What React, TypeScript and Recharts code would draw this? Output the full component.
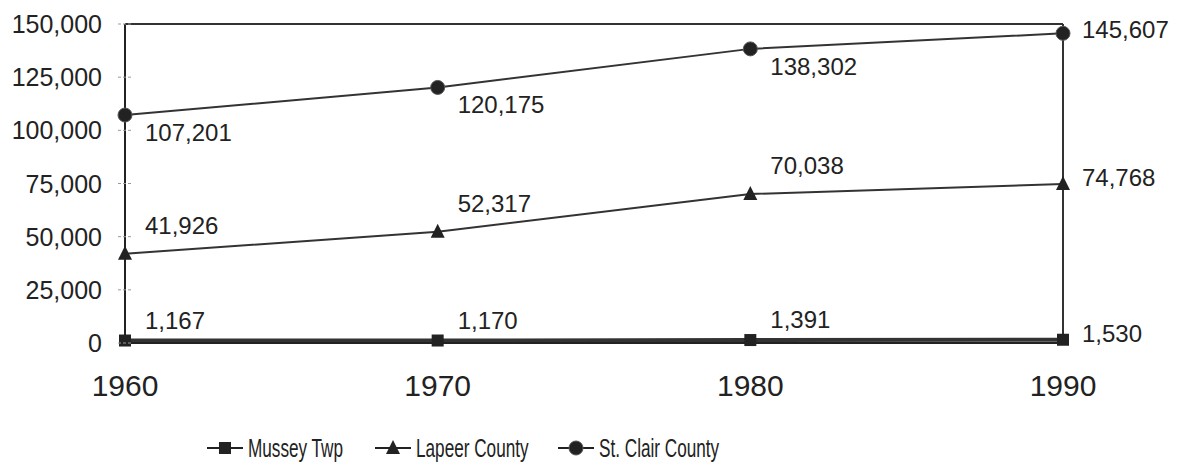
import React from 'react';
import { LineChart, Line, XAxis, YAxis, ReferenceLine, Legend, LabelList } from 'recharts';

const years = ['1960', '1970', '1980', '1990'];
const mussey = [1167, 1170, 1391, 1530];
const lapeer = [41926, 52317, 70038, 74768];
const stClair = [107201, 120175, 138302, 145607];
const yTicks = [0, 25000, 50000, 75000, 100000, 125000, 150000];
const seriesNames = ['Mussey Twp', 'Lapeer County', 'St. Clair County'];

const data = years.map((year, i) => ({
  year,
  mussey: mussey[i],
  lapeer: lapeer[i],
  stClair: stClair[i],
}));

const INK = '#222';
const FONT = '"Liberation Sans", Arial, sans-serif';
const fmt = (v: number) => v.toLocaleString('en-US');

const Marker = ({ kind, cx, cy }: { kind: string; cx: number; cy: number }) => {
  if (kind === 'square') return <rect x={cx - 6} y={cy - 6} width={12} height={12} fill={INK} />;
  if (kind === 'triangle')
    return <polygon points={`${cx},${cy - 8} ${cx - 7},${cy + 6} ${cx + 7},${cy + 6}`} fill={INK} />;
  return <circle cx={cx} cy={cy} r={7} fill={INK} stroke="#555" strokeWidth={1} />;
};

const makeDot = (kind: string) => (props: any) => (
  <Marker key={`${kind}-${props.index}`} kind={kind} cx={props.cx} cy={props.cy} />
);

// label placement: offset for inner points, last point sits to the right
const makeLabel = (dy: number, lastDy: number) => (props: any) => {
  const { x, y, value, index } = props;
  const last = index === years.length - 1;
  return (
    <text
      x={x + (last ? 19 : 20)}
      y={y + (last ? lastDy : dy)}
      fontSize={24}
      fontFamily={FONT}
      fill={INK}
      dominantBaseline={last ? 'central' : 'alphabetic'}
    >
      {fmt(value)}
    </text>
  );
};

const YTick = (props: any) => {
  const { x, y, payload } = props;
  return (
    <g>
      <line x1={x - 7} x2={x + 7} y1={y} y2={y} stroke="#999" strokeWidth={1} strokeDasharray="3 2" />
      <text x={x - 23} y={y} textAnchor="end" dominantBaseline="central" fontSize={25} fontFamily={FONT} fill={INK}>
        {fmt(payload.value)}
      </text>
    </g>
  );
};

const XTick = (props: any) => {
  const { x, y, payload } = props;
  return (
    <text x={x} y={y + 42} textAnchor="middle" dominantBaseline="central" fontSize={30} fontFamily={FONT} fill={INK}>
      {payload.value}
    </text>
  );
};

const kinds = ['square', 'triangle', 'circle'];
const legendWidths = [168, 183, 200];

const LegendContent = () => (
  <div
    style={{
      display: 'flex',
      height: 36,
      boxSizing: 'border-box',
      alignItems: 'center',
      paddingLeft: 199,
      paddingTop: 6,
    }}
  >
    {seriesNames.map((name, i) => (
      <div key={name} style={{ display: 'flex', alignItems: 'center', width: legendWidths[i], flexShrink: 0 }}>
        <svg width={36} height={20} style={{ flexShrink: 0 }}>
          <line x1={0} x2={36} y1={10} y2={10} stroke={INK} strokeWidth={2} />
          <Marker kind={kinds[i]} cx={18} cy={10} />
        </svg>
        <span
          style={{
            fontFamily: FONT,
            fontSize: 26,
            color: INK,
            marginLeft: 5,
            display: 'inline-block',
            transform: 'scaleX(0.66)',
            transformOrigin: 'left center',
            whiteSpace: 'nowrap',
          }}
        >
          {name}
        </span>
      </div>
    ))}
  </div>
);

export default function App() {
  return (
    <LineChart width={1164} height={455} data={data} margin={{ top: 16, right: 109, left: 0, bottom: 0 }}>
      <XAxis
        dataKey="year"
        height={84}
        tickSize={0}
        tickMargin={0}
        tick={<XTick />}
        axisLine={{ stroke: INK, strokeWidth: 2 }}
        padding={{ left: 0, right: 0 }}
      />
      <YAxis
        width={117}
        domain={[0, 150000]}
        ticks={yTicks}
        tickSize={0}
        tickMargin={0}
        tick={<YTick />}
        axisLine={{ stroke: INK, strokeWidth: 2 }}
      />
      <ReferenceLine y={150000} stroke="#333" strokeWidth={2} />
      <ReferenceLine x="1990" stroke="#333" strokeWidth={2} />
      <Legend verticalAlign="bottom" content={<LegendContent />} />
      <Line dataKey="stClair" name={seriesNames[2]} stroke="#333" strokeWidth={2} dot={makeDot('circle')} isAnimationActive={false}>
        <LabelList dataKey="stClair" content={makeLabel(26, -4)} />
      </Line>
      <Line dataKey="lapeer" name={seriesNames[1]} stroke="#333" strokeWidth={2} dot={makeDot('triangle')} isAnimationActive={false}>
        <LabelList dataKey="lapeer" content={makeLabel(-20, -6)} />
      </Line>
      <Line dataKey="mussey" name={seriesNames[0]} stroke="#333" strokeWidth={4} dot={makeDot('square')} isAnimationActive={false}>
        <LabelList dataKey="mussey" content={makeLabel(-12, -6)} />
      </Line>
    </LineChart>
  );
}
